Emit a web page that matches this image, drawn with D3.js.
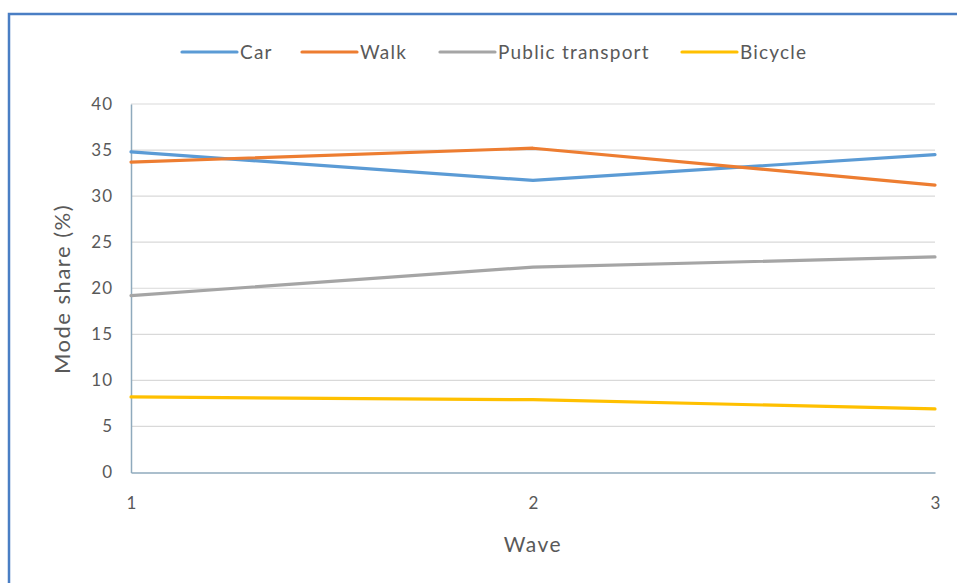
<!DOCTYPE html>
<html>
<head>
<meta charset="utf-8">
<script src="https://cdn.jsdelivr.net/npm/d3@7"></script>
<style>
  html, body { margin: 0; padding: 0; background: #ffffff; }
  svg { display: block; font-family: Lato, "Open Sans", sans-serif; }
</style>
</head>
<body>
<svg id="chart" width="957" height="583"></svg>
<script>
// Survey waves and mode shares (%)
const waves = [1, 2, 3];
const seriesNames = ["Car", "Walk", "Public transport", "Bicycle"];
const car = [34.8, 31.7, 34.5];
const walk = [33.7, 35.2, 31.2];
const publicTransport = [19.2, 22.3, 23.4];
const bicycle = [8.2, 7.9, 6.9];
const yTicks = [0, 5, 10, 15, 20, 25, 30, 35, 40];
const colors = ["#5B9BD5", "#ED7D31", "#A5A5A5", "#FFC000"];

const series = [car, walk, publicTransport, bicycle].map((values, i) => ({
  name: seriesNames[i],
  color: colors[i],
  values: values.map((v, j) => ({ wave: waves[j], value: v }))
}));

const svg = d3.select("#chart");
const textColor = "#595959";

// Outer frame
svg.append("path")
  .attr("d", "M9,583 L9,14 L957,14")
  .attr("fill", "none")
  .attr("stroke", "#4A7EC4")
  .attr("stroke-width", 2.5);

const x = d3.scaleLinear().domain([1, 3]).range([131, 935]);
const y = d3.scaleLinear().domain([0, 40]).range([472.5, 104]);

// Horizontal gridlines
svg.append("g")
  .selectAll("line")
  .data(yTicks.filter(t => t > 0))
  .join("line")
  .attr("x1", x(1)).attr("x2", x(3))
  .attr("y1", d => y(d)).attr("y2", d => y(d))
  .attr("stroke", "#D9D9D9")
  .attr("stroke-width", 1.2);

// Y axis
const yAxis = svg.append("g")
  .attr("transform", `translate(${x(1)},0)`)
  .call(d3.axisLeft(y).tickValues(yTicks).tickSize(0).tickPadding(18));
yAxis.select(".domain").attr("stroke", "#8FAABD").attr("stroke-width", 1.5);
yAxis.selectAll("text")
  .attr("fill", textColor).attr("font-size", 17)
  .attr("letter-spacing", 1)
  .attr("font-family", "Lato, sans-serif");

// X axis
const xAxis = svg.append("g")
  .attr("transform", `translate(0,${y(0)})`)
  .call(d3.axisBottom(x).tickValues(waves).tickFormat(d3.format("d")).tickSize(0).tickPadding(24));
xAxis.select(".domain").attr("stroke", "#8FAABD").attr("stroke-width", 1.5);
xAxis.selectAll("text")
  .attr("fill", textColor).attr("font-size", 17)
  .attr("font-family", "Lato, sans-serif");

// Axis titles
svg.append("text")
  .attr("x", 533).attr("y", 552)
  .attr("text-anchor", "middle")
  .attr("fill", textColor)
  .attr("font-size", 21)
  .attr("letter-spacing", 1.5)
  .text("Wave");

svg.append("text")
  .attr("transform", `translate(70,289) rotate(-90)`)
  .attr("text-anchor", "middle")
  .attr("fill", textColor)
  .attr("font-size", 22)
  .attr("letter-spacing", 1.5)
  .text("Mode share (%)");

// Series lines
const line = d3.line().x(d => x(d.wave)).y(d => y(d.value));
svg.append("g")
  .selectAll("path")
  .data(series)
  .join("path")
  .attr("d", d => line(d.values))
  .attr("fill", "none")
  .attr("stroke", d => d.color)
  .attr("stroke-width", 3.2)
  .attr("stroke-linejoin", "round")
  .attr("stroke-linecap", "round");

// Legend
const legendPos = [182, 302, 440, 682];
const legend = svg.append("g")
  .selectAll("g")
  .data(series)
  .join("g")
  .attr("transform", (d, i) => `translate(${legendPos[i]},52)`);
legend.append("line")
  .attr("x1", 0).attr("x2", 55)
  .attr("stroke", d => d.color)
  .attr("stroke-width", 3.2)
  .attr("stroke-linecap", "round");
legend.append("text")
  .attr("x", 58).attr("dy", "0.35em")
  .attr("fill", textColor)
  .attr("font-size", 19)
  .attr("letter-spacing", 1.2)
  .text(d => d.name);
</script>
</body>
</html>
